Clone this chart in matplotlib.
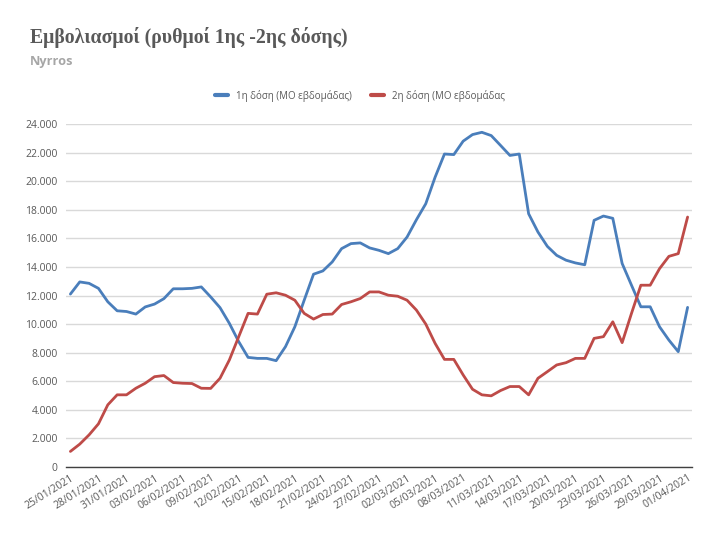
import matplotlib
matplotlib.use("Agg")
import matplotlib.pyplot as plt
import pandas as pd
import numpy as np

dates = pd.date_range("2021-01-25", "2021-04-01", freq="D")

dose1 = [12100, 12950, 12850, 12500, 11560, 10930, 10880, 10700, 11200, 11400,
         11780, 12470, 12470, 12500, 12600, 11900, 11150, 10050, 8770, 7670,
         7600, 7600, 7440, 8420, 9810, 11670, 13490, 13720, 14350, 15280,
         15630, 15680, 15330, 15160, 14930, 15280, 16090, 17300, 18420, 20280,
         21900, 21860, 22800, 23260, 23420, 23190, 22500, 21800, 21900, 17720,
         16440, 15440, 14810, 14470, 14280, 14150, 17260, 17560, 17400, 14240,
         12720, 11210, 11210, 9810, 8880, 8070, 11170]

dose2 = [1090, 1600, 2250, 3020, 4350, 5050, 5050, 5510, 5860, 6320,
         6400, 5910, 5860, 5840, 5510, 5500, 6210, 7490, 9120, 10750,
         10700, 12090, 12190, 12020, 11670, 10750, 10350, 10670, 10700, 11370,
         11560, 11790, 12250, 12250, 12020, 11950, 11670, 10980, 10000, 8650,
         7530, 7530, 6440, 5440, 5050, 4980, 5350, 5630, 5630, 5050,
         6210, 6670, 7140, 7300, 7600, 7600, 9000, 9120, 10160, 8700,
         10750, 12720, 12720, 13880, 14740, 14930, 17490]

series_labels = ["1η δόση (ΜΟ εβδομάδας)", "2η δόση (ΜΟ εβδομάδας"]
title = "Εμβολιασμοί (ρυθμοί 1ης -2ης δόσης)"
subtitle = "Nyrros"
yticks = list(range(0, 24001, 2000))

plt.rcParams['font.family'] = ['Open Sans', 'DejaVu Sans']

fig = plt.figure(figsize=(7.19, 5.33), dpi=100)
ax = fig.add_axes([66/719, 1 - 467/533, (692 - 66)/719, (467 - 124)/533])

x = np.arange(len(dates))
ax.plot(x, dose1, color="#4A7EBB", lw=2.0, label=series_labels[0], solid_capstyle="round")
ax.plot(x, dose2, color="#BE4B48", lw=2.0, label=series_labels[1], solid_capstyle="round")

ax.set_xlim(-0.47, len(dates) - 1 + 0.47)
ax.set_ylim(0, 24000)
ax.set_yticks(yticks)
ax.set_yticklabels([f"{v:,}".replace(",", ".") for v in yticks], fontsize=7.5, color="#595959")
ax.grid(axis="y", color="#D9D9D9", lw=1.0)
ax.set_axisbelow(True)
for s in ["top", "right", "left"]:
    ax.spines[s].set_visible(False)
ax.spines["bottom"].set_color("#404040")
ax.spines["bottom"].set_linewidth(1.0)
ax.tick_params(axis="both", length=0)
ax.tick_params(axis="y", pad=6)

tick_idx = x[::3]
ax.set_xticks(tick_idx)
ax.set_xticklabels([dates[i].strftime("%d/%m/%Y") for i in tick_idx],
                   rotation=32, ha="right", rotation_mode="anchor",
                   fontsize=7.5, color="#595959")
ax.tick_params(axis="x", pad=4)

fig.text(30/719, 1 - 38/533, title, fontsize=14.2, fontweight="bold",
         family="Liberation Serif", color="#595959", va="center", ha="left")
fig.text(30/719, 1 - 62/533, subtitle, fontsize=9.2, fontweight="bold",
         color="#A6A6A6", va="center", ha="left")

leg = fig.legend(loc="center", bbox_to_anchor=(360/719, 1 - 95.5/533), ncol=2,
                 frameon=False, fontsize=7, handlelength=1.3, columnspacing=2.0,
                 labelcolor="#595959")
for line in leg.get_lines():
    line.set_linewidth(3)

fig.savefig("out.png", dpi=100, facecolor="white")
